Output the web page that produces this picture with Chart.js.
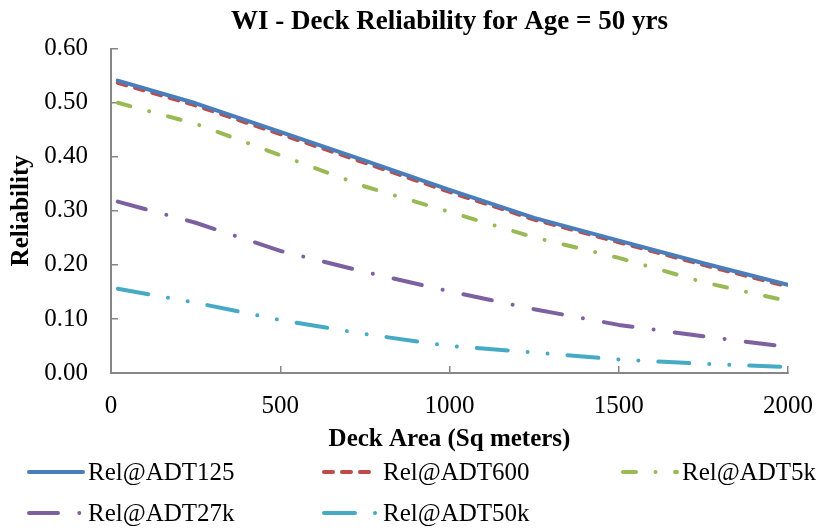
<!DOCTYPE html>
<html>
<head>
<meta charset="utf-8">
<script src="https://cdn.jsdelivr.net/npm/chart.js@4/dist/chart.umd.min.js"></script>
<style>
  html, body { margin: 0; padding: 0; background: #ffffff; }
  #wrap { width: 822px; height: 531px; position: relative; }
</style>
</head>
<body>
<div id="wrap"><canvas id="c"></canvas></div>
<script>
// ---- Data ----
const deckAreas = [20, 250, 500, 750, 1000, 1250, 1500, 1750, 2000];
const relADT125 = [0.541, 0.499, 0.446, 0.393, 0.339, 0.287, 0.245, 0.203, 0.163];
const relADT600 = [0.537, 0.495, 0.442, 0.389, 0.335, 0.284, 0.242, 0.200, 0.160];
const relADT5k  = [0.500, 0.461, 0.403, 0.345, 0.298, 0.251, 0.213, 0.168, 0.133];
const relADT27k = [0.317, 0.278, 0.226, 0.187, 0.151, 0.118, 0.089, 0.068, 0.048];
const relADT50k = [0.156, 0.130, 0.098, 0.072, 0.050, 0.038, 0.025, 0.017, 0.011];
const seriesNames = ['Rel@ADT125', 'Rel@ADT600', 'Rel@ADT5k', 'Rel@ADT27k', 'Rel@ADT50k'];
const xTickValues = [0, 500, 1000, 1500, 2000];
const yTickValues = [0.0, 0.1, 0.2, 0.3, 0.4, 0.5, 0.6];
const chartTitle = 'WI - Deck Reliability for Age = 50 yrs';
const xAxisTitle = 'Deck Area (Sq meters)';
const yAxisTitle = 'Reliability';

const FONT = "'Liberation Serif', 'Times New Roman', serif";

function pts(values) {
  return deckAreas.map((x, i) => ({ x: x, y: values[i] }));
}

const styles = [
  { color: '#4A7EBB', dash: [] },
  { color: '#BE4B48', dash: [9, 9] },
  { color: '#98B954', dash: [13, 19.5, 0.01, 19.5] },
  { color: '#7D60A0', dash: [29, 21.3, 0.01, 21.3] },
  { color: '#46AAC5', dash: [31, 20, 0.01, 20, 0.01, 20] }
];
const seriesValues = [relADT125, relADT600, relADT5k, relADT27k, relADT50k];

const datasets = seriesValues.map((vals, i) => ({
  label: seriesNames[i],
  data: pts(vals),
  borderColor: styles[i].color,
  backgroundColor: styles[i].color,
  borderWidth: 4,
  borderDash: styles[i].dash,
  borderCapStyle: 'round',
  borderJoinStyle: 'round',
  pointRadius: 0,
  tension: 0,
  fill: false
}));

// Custom grid-style legend (3 columns, 2 rows) like the reference
const gridLegend = {
  id: 'gridLegend',
  afterDraw(chart) {
    const ctx = chart.ctx;
    const cols = [27, 322, 621];
    const rows = [472, 513];
    ctx.save();
    chart.data.datasets.forEach((ds, i) => {
      const cx = cols[i % 3];
      const cy = rows[Math.floor(i / 3)];
      ctx.beginPath();
      ctx.strokeStyle = ds.borderColor;
      ctx.lineWidth = 4;
      ctx.lineCap = 'round';
      ctx.setLineDash(ds.borderDash || []);
      ctx.moveTo(cx + 2, cy);
      ctx.lineTo(cx + 56, cy);
      ctx.stroke();
      ctx.setLineDash([]);
      ctx.fillStyle = '#000000';
      ctx.font = '25px ' + FONT;
      ctx.textBaseline = 'middle';
      ctx.textAlign = 'left';
      ctx.fillText(ds.label, cx + 61, cy + 1);
    });
    ctx.restore();
  }
};

new Chart(document.getElementById('c'), {
  type: 'line',
  data: { datasets: datasets },
  options: {
    responsive: true,
    maintainAspectRatio: false,
    animation: false,
    layout: { padding: { left: 0, right: 34, top: 0, bottom: 76 } },
    plugins: {
      legend: { display: false },
      tooltip: { enabled: false },
      title: {
        display: true,
        fullSize: false,
        text: chartTitle,
        color: '#000000',
        font: { family: FONT, size: 27, weight: 'bold' },
        padding: { top: 6, bottom: 10.3 }
      }
    },
    scales: {
      x: {
        type: 'linear',
        min: 0,
        max: 2000,
        afterBuildTicks: (scale) => { scale.ticks = xTickValues.map(v => ({ value: v })); },
        afterFit: (scale) => { scale.height = 82; scale.paddingRight = 0; scale.paddingLeft = 0; },
        ticks: {
          color: '#000000',
          font: { family: FONT, size: 25 },
          padding: 25,
          maxRotation: 0,
          callback: (v) => String(v)
        },
        grid: { display: true, drawOnChartArea: false, drawTicks: true, tickLength: -7, color: '#868686', lineWidth: 1.5 },
        border: { display: true, color: '#868686', width: 2 },
        title: {
          display: true,
          text: xAxisTitle,
          color: '#000000',
          font: { family: FONT, size: 25, weight: 'bold' },
          padding: { top: 0, bottom: 0 }
        }
      },
      y: {
        type: 'linear',
        min: 0,
        max: 0.6,
        afterBuildTicks: (scale) => { scale.ticks = yTickValues.map(v => ({ value: v })); },
        afterFit: (scale) => { scale.width = 111; },
        ticks: {
          color: '#000000',
          font: { family: FONT, size: 25 },
          padding: 30,
          callback: (v) => Number(v).toFixed(2)
        },
        grid: { display: true, drawOnChartArea: false, drawTicks: true, tickLength: -7, color: '#868686', lineWidth: 1.5 },
        border: { display: true, color: '#868686', width: 2 },
        title: {
          display: true,
          text: yAxisTitle,
          color: '#000000',
          font: { family: FONT, size: 25, weight: 'bold' },
          padding: { top: 7, bottom: 0 }
        }
      }
    }
  },
  plugins: [gridLegend]
});
</script>
</body>
</html>
